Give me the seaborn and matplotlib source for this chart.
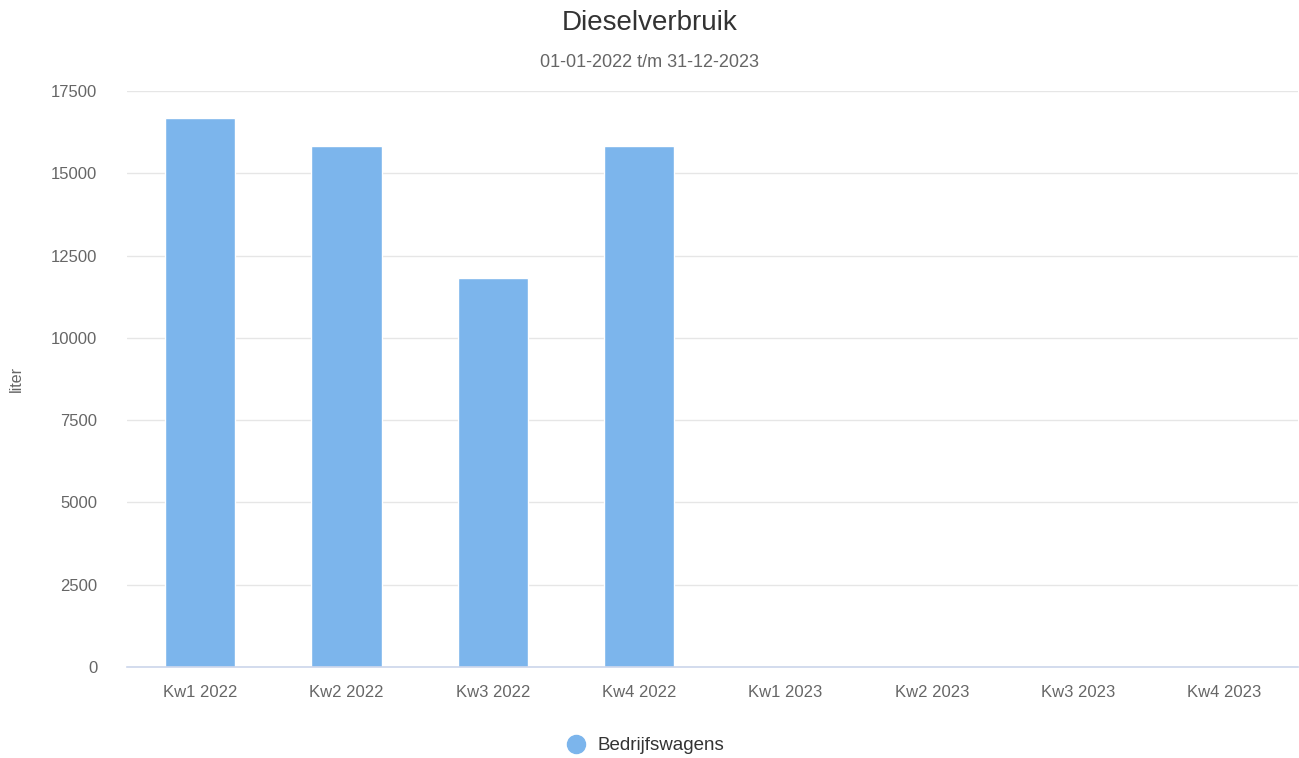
import matplotlib
matplotlib.use("Agg")
import matplotlib.pyplot as plt
from matplotlib.lines import Line2D
import seaborn as sns
import pandas as pd

# Quarterly diesel consumption (litres) for company vans
categories = ["Kw1 2022", "Kw2 2022", "Kw3 2022", "Kw4 2022",
              "Kw1 2023", "Kw2 2023", "Kw3 2023", "Kw4 2023"]
liters = [16680, 15840, 11810, 15840, 0, 0, 0, 0]
series_name = "Bedrijfswagens"
y_ticks = [0, 2500, 5000, 7500, 10000, 12500, 15000, 17500]

sns.set_theme(style="white")
plt.rcParams["font.family"] = ["Liberation Sans", "DejaVu Sans"]

df = pd.DataFrame({"kwartaal": categories, "liter": liters})

fig = plt.figure(figsize=(12.99, 7.58), dpi=100)
ax = fig.add_axes([0.0978, 0.120, 0.9012, 0.760])

bar_color = "#7cb5ec"
sns.barplot(data=df, x="kwartaal", y="liter", order=categories,
            color=bar_color, saturation=1, width=0.48,
            edgecolor="#ffffff", linewidth=1.0, ax=ax, zorder=2)

ax.set_xlim(-0.5, len(categories) - 0.5)
ax.set_ylim(0, 17500)
ax.set_yticks(y_ticks)
ax.set_yticklabels([str(v) for v in y_ticks])
ax.yaxis.grid(True, color="#e6e6e6", linewidth=1.0, zorder=0)
ax.set_axisbelow(True)

for side in ["top", "right", "left"]:
    ax.spines[side].set_visible(False)
ax.spines["bottom"].set_color("#ccd6eb")
ax.spines["bottom"].set_linewidth(1.2)
ax.spines["bottom"].set_zorder(3)

ax.tick_params(axis="both", length=0, labelsize=12, colors="#666666")
ax.tick_params(axis="x", pad=13)
ax.tick_params(axis="y", pad=21.5)
for lbl in ax.get_yticklabels():
    lbl.set_horizontalalignment("right")

ax.set_xlabel("")
ax.set_ylabel("liter", fontsize=11.5, color="#666666")
ax.yaxis.set_label_coords(-0.088, 0.5)

fig.text(0.5, 0.969, "Dieselverbruik", ha="center", va="center",
         fontsize=20, color="#333333")
fig.text(0.5, 0.918, "01-01-2022 t/m 31-12-2023", ha="center", va="center",
         fontsize=13, color="#666666")

handle = Line2D([], [], linestyle="none", marker="o", markersize=13,
                markerfacecolor=bar_color, markeredgecolor=bar_color)
fig.legend([handle], [series_name], loc="center", bbox_to_anchor=(0.493, 0.016),
           frameon=False, fontsize=13.5, handletextpad=0.15,
           labelcolor="#333333", borderpad=0.2)

fig.savefig("out.png", dpi=100, facecolor="white")
